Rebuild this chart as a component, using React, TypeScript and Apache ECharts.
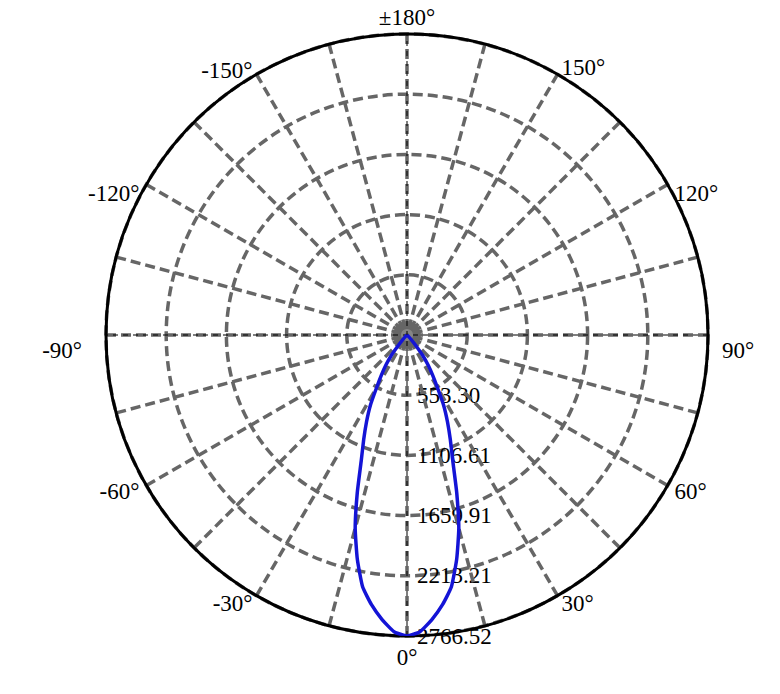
import React, { useEffect, useRef } from 'react';
import * as echarts from 'echarts';

// C-plane angle (deg, 0 = straight down) and luminous intensity (cd)
const angles = [
  -50, -47.5, -45, -42.5, -40, -37.5, -35, -32.5, -30, -27.5, -25, -22.5, -20, -17.5, -15, -12.5, -10, -7.5, -5, -2.5,
  0, 2.5, 5, 7.5, 10, 12.5, 15, 17.5, 20, 22.5, 25, 27.5, 30, 32.5, 35, 37.5, 40, 42.5, 45, 47.5, 50,
];
const intensity = [
  0, 0, 15, 50, 120, 240, 340, 440, 560, 730, 880, 1040, 1230, 1520, 1840, 2110, 2350, 2500, 2625, 2730,
  2766.52, 2730, 2625, 2500, 2350, 2110, 1840, 1520, 1230, 1040, 880, 730, 560, 440, 340, 240, 120, 50, 15, 0, 0,
];

const maxIntensity = 2766.52;
const ringLabels = ['553.30', '1106.61', '1659.91', '2213.21', '2766.52'];

const angleTicks = [0, 30, 60, 90, 120, 150, 180, 210, 240, 270, 300, 330];
const angleTickLabels = ['0°', '30°', '60°', '90°', '120°', '150°', '±180°', '-150°', '-120°', '-90°', '-60°', '-30°'];

// nudges for the angle labels (padding per label, [top, right, bottom, left])
const labelPads: number[][] = [
  [2, 0, 0, 0],
  [-11, 0, 0, 0],
  [-10, 0, 0, 0],
  [30, 0, 0, 6],
  [0, 0, -25, 0],
  [0, 0, -12, 0],
  [0, 0, -3, 0],
  [0, 0, -15, 0],
  [0, 0, -25, 0],
  [30, 16, 0, 0],
  [-10, 0, 0, 0],
  [-11, 0, 0, 0],
];

const FONT = 'Liberation Serif';
const GRID_DASH = [10, 5];

const App: React.FC = () => {
  const chartRef = useRef<HTMLDivElement>(null);

  useEffect(() => {
    if (!chartRef.current) return;
    document.body.style.margin = '0';
    const chart = echarts.init(chartRef.current, undefined, { renderer: 'svg' });
    const ringStep = maxIntensity / ringLabels.length;

    const rich: Record<string, any> = {};
    labelPads.forEach((p, i) => {
      rich['a' + i] = { padding: p, fontSize: 23, fontFamily: FONT, color: '#000' };
    });

    const option = {
      animation: false,
      backgroundColor: '#fff',
      polar: {
        center: [407, 335],
        radius: 301,
      },
      angleAxis: {
        type: 'value',
        min: 0,
        max: 360,
        interval: 15,
        startAngle: 270,
        clockwise: false,
        z: 3,
        axisLine: { lineStyle: { color: '#000', width: 3 } },
        axisTick: { show: false },
        axisLabel: {
          margin: 8,
          color: '#000',
          fontSize: 23,
          fontFamily: FONT,
          rich,
          formatter: (v: number) => {
            const i = angleTicks.indexOf(v);
            return i >= 0 ? `{a${i}|${angleTickLabels[i]}}` : '';
          },
        },
        splitLine: {
          lineStyle: { color: '#666', width: 3.5, type: GRID_DASH },
        },
      },
      radiusAxis: {
        type: 'value',
        min: 0,
        max: maxIntensity,
        interval: ringStep,
        z: 2,
        axisLine: { show: false },
        axisTick: { show: false },
        axisLabel: {
          margin: 10,
          color: '#000',
          fontSize: 23,
          fontFamily: FONT,
          formatter: (v: number) => {
            const i = Math.round(v / ringStep);
            return i > 0 ? ringLabels[i - 1] : '';
          },
        },
        splitLine: {
          lineStyle: { color: '#666', width: 3.5, type: GRID_DASH },
        },
      },
      series: [
        {
          type: 'line',
          coordinateSystem: 'polar',
          silent: true,
          symbol: 'none',
          lineStyle: { color: '#000', width: 1, type: [5, 5] },
          data: [[maxIntensity, 0], [0, 0], [maxIntensity, 180]],
        },
        {
          type: 'line',
          coordinateSystem: 'polar',
          silent: true,
          symbol: 'none',
          lineStyle: { color: '#000', width: 1, type: [5, 5] },
          data: [[maxIntensity, 90], [0, 0], [maxIntensity, 270]],
        },
        {
          type: 'scatter',
          coordinateSystem: 'polar',
          silent: true,
          data: [
            { value: [0, 0], symbolSize: 28, itemStyle: { color: '#fff' } },
            { value: [0, 0], symbolSize: 20, itemStyle: { color: '#666' } },
          ],
        },
        {
          name: 'intensity',
          type: 'line',
          coordinateSystem: 'polar',
          symbol: 'none',
          smooth: 0.15,
          lineStyle: { color: '#1414d6', width: 3.5 },
          data: angles.map((a, i) => [intensity[i], (a + 360) % 360]),
        },
      ],
    };

    chart.setOption(option);
    return () => {
      chart.dispose();
    };
  }, []);

  return <div ref={chartRef} style={{ width: '780px', height: '694px' }} />;
};

export default App;
